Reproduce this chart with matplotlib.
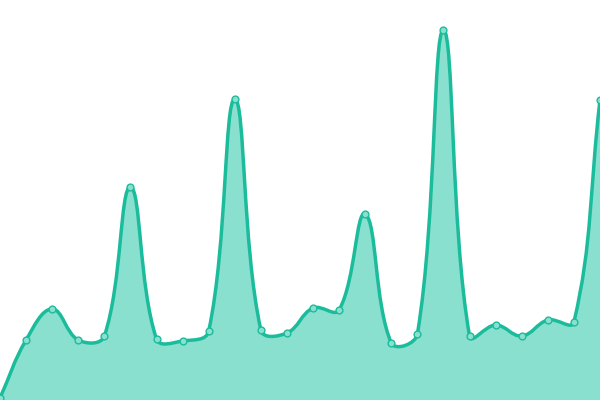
import numpy as np
import matplotlib
matplotlib.use('Agg')
import matplotlib.pyplot as plt
from matplotlib.path import Path
from matplotlib.patches import PathPatch

# values (0 = bottom edge, 400 = top edge)
idx = np.arange(24)
values = [2, 60, 91, 60, 64, 213, 61, 59, 69, 301, 70, 67,
          92, 90, 186, 57, 66, 370, 64, 75, 64, 80, 78, 300]

line_color = '#1abc9c'
fill_color = '#8ae0ce'
tension = 0.4

W, H = 600, 400
step = W / 23


def spline_path(x, y, t=0.4, close=False):
    # chart.js style bezier: control points scaled by neighbour distances
    x = np.asarray(x, float)
    y = np.asarray(y, float)
    n = len(x)
    cp_prev = np.zeros((n, 2))
    cp_next = np.zeros((n, 2))
    for i in range(n):
        p = np.array([x[max(i - 1, 0)], y[max(i - 1, 0)]])
        c = np.array([x[i], y[i]])
        q = np.array([x[min(i + 1, n - 1)], y[min(i + 1, n - 1)]])
        d01 = np.hypot(*(c - p))
        d12 = np.hypot(*(q - c))
        s = d01 + d12
        s01 = d01 / s if s else 0
        s12 = d12 / s if s else 0
        cp_prev[i] = c - t * s01 * (q - p)
        cp_next[i] = c + t * s12 * (q - p)
    cp_prev[:, 1] = np.clip(cp_prev[:, 1], 0, H)
    cp_next[:, 1] = np.clip(cp_next[:, 1], 0, H)
    verts = [(x[0], y[0])]
    codes = [Path.MOVETO]
    for i in range(n - 1):
        verts += [tuple(cp_next[i]), tuple(cp_prev[i + 1]), (x[i + 1], y[i + 1])]
        codes += [Path.CURVE4] * 3
    if close:
        verts += [(x[-1], 0), (x[0], 0), (x[0], y[0])]
        codes += [Path.LINETO, Path.LINETO, Path.CLOSEPOLY]
    return Path(verts, codes)


px = idx * step
py = np.array(values, float)

fig = plt.figure(figsize=(6, 4), dpi=100)
ax = fig.add_axes([0, 0, 1, 1])
ax.add_patch(PathPatch(spline_path(px, py, tension, close=True),
                       facecolor=fill_color, edgecolor='none'))
ax.add_patch(PathPatch(spline_path(px, py, tension), facecolor='none',
                       edgecolor=line_color, linewidth=2.5))
ax.scatter(px, py, s=24, facecolor=fill_color, edgecolor=line_color,
           linewidth=1, zorder=3)

ax.set_xlim(0, W)
ax.set_ylim(0, H)
ax.axis('off')

fig.savefig('out.png', dpi=100)
